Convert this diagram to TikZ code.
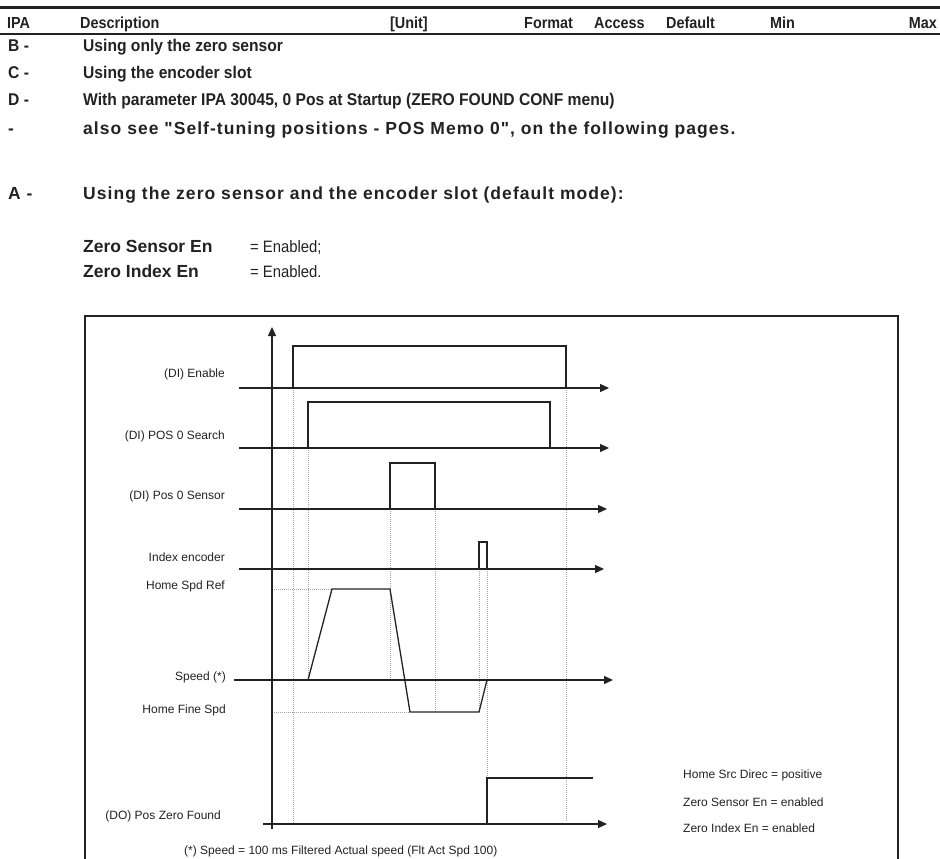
\documentclass[tikz,border=0pt]{standalone}
\usepackage{fontspec}
\setmainfont{Liberation Sans}
\newfontfamily\narrowfont[FakeStretch=0.9]{Liberation Sans}
\newfontfamily\itemfont[FakeStretch=0.92]{Liberation Sans}
\newfontfamily\spacedfont[LetterSpace=6]{Liberation Sans}
\usetikzlibrary{arrows.meta}
\definecolor{ink}{HTML}{222222}
\begin{document}
\begin{tikzpicture}[x=1pt,y=-1pt,
  hdr/.style={font=\narrowfont\bfseries\fontsize{16}{18}\selectfont, anchor=base west, inner sep=0, text=ink},
  itm/.style={font=\itemfont\bfseries\fontsize{17}{19}\selectfont, anchor=base west, inner sep=0, text=ink},
  spc/.style={font=\spacedfont\bfseries\fontsize{17.5}{19}\selectfont, anchor=base west, inner sep=0, text=ink},
  boldtxt/.style={font=\bfseries\fontsize{17.5}{19}\selectfont, anchor=base west, inner sep=0, text=ink},
  narrowtxt/.style={font=\narrowfont\fontsize{16.5}{18}\selectfont, anchor=base west, inner sep=0, text=ink},
  lbl/.style={font=\fontsize{12}{14}\selectfont, inner sep=0, text=ink},
  sig/.style={line width=1.3pt, draw=ink},
  tline/.style={sig, -{Triangle[length=9pt,width=8pt]}},
  guide/.style={draw=black!35, line width=0.6pt, dash pattern=on 1pt off 1pt},
  frameline/.style={draw=ink, line width=1.1pt}]
\useasboundingbox (0,0) rectangle (940,859);
% header rules
\draw[draw=ink, line width=2.5pt] (0,7.5) -- (940,7.5);
\draw[draw=ink, line width=2pt] (0,34) -- (940,34);
% header
\node[hdr] (hIPA) at (7,29) {IPA};
\node[hdr] (hDesc) at (80,29) {Description};
\node[hdr] (hUnit) at (390,29) {[Unit]};
\node[hdr] (hFormat) at (524,29) {Format};
\node[hdr] (hAccess) at (594,29) {Access};
\node[hdr] (hDefault) at (666,29) {Default};
\node[hdr] (hMin) at (770,29) {Min};
\node[hdr, anchor=base east] (hMax) at (937,29) {Max};
% list
\node[itm] (lB) at (8,52) {B -};
\node[itm] (tB) at (83,52) {Using only the zero sensor};
\node[itm] (lC) at (8,79) {C -};
\node[itm] (tC) at (83,79) {Using the encoder slot};
\node[itm] (lD) at (8,106) {D -};
\node[itm] (tD) at (83,106) {With parameter IPA 30045, 0 Pos at Startup (ZERO FOUND CONF menu)};
\node[spc] (lE) at (8,134) {-};
\node[spc] (tE) at (83,134) {also see "Self-tuning positions - POS Memo 0", on the following pages.};
\node[spc] (lA) at (8,199) {A -};
\node[spc] (tA) at (83,199) {Using the zero sensor and the encoder slot (default mode):};
\node[boldtxt] (zs) at (83,252) {Zero Sensor En};
\node[narrowtxt] (zsv) at (250,252) {= Enabled;};
\node[boldtxt] (zi) at (83,277) {Zero Index En};
\node[narrowtxt] (ziv) at (250,277) {= Enabled.};
% frame
\draw[frameline] (85,859) -- (85,316) -- (898,316) -- (898,859);
% guides
\draw[guide] (293,388) -- (293,824);
\draw[guide] (308,448) -- (308,680);
\draw[guide] (390,509) -- (390,680);
\draw[guide] (435,509) -- (435,712);
\draw[guide] (479,569) -- (479,712);
\draw[guide] (487,569) -- (487,778);
\draw[guide] (566,388) -- (566,822);
\draw[guide] (274,589) -- (332,589);
\draw[guide] (274,712) -- (410,712);
% axis
\draw[tline] (272,829) -- (272,327);
% time lines
\draw[tline] (239,388) -- (609,388);
\draw[tline] (239,448) -- (609,448);
\draw[tline] (239,509) -- (607,509);
\draw[tline] (239,569) -- (604,569);
\draw[tline] (234,680) -- (613,680);
\draw[tline] (263,824) -- (607,824);
% signals
\draw[sig] (293,388) -- (293,346) -- (566,346) -- (566,388);
\draw[sig] (308,448) -- (308,402) -- (550,402) -- (550,448);
\draw[sig] (390,509) -- (390,463) -- (435,463) -- (435,509);
\draw[sig] (479,569) -- (479,542) -- (487,542) -- (487,569);
\draw[sig] (308,680) -- (332,589) -- (390,589) -- (410,712) -- (479,712) -- (487,680);
\draw[sig] (487,824) -- (487,778) -- (593,778);
% labels
\node[lbl, anchor=east] (nEn) at (225,374) {(DI) Enable};
\node[lbl, anchor=east] (nSearch) at (225,436) {(DI) POS 0 Search};
\node[lbl, anchor=east] (nSensor) at (225,496) {(DI) Pos 0 Sensor};
\node[lbl, anchor=east] (nIdx) at (225,557) {Index encoder};
\node[lbl, anchor=east] (nRef) at (225,586) {Home Spd Ref};
\node[lbl, anchor=east] (nSpd) at (226,677) {Speed (*)};
\node[lbl, anchor=east] (nFine) at (226,710) {Home Fine Spd};
\node[lbl, anchor=east] (nDO) at (221,816) {(DO) Pos Zero Found};
\node[lbl, anchor=west] (nFoot) at (184,851) {(*) Speed = 100 ms Filtered Actual speed (Flt Act Spd 100)};
\node[lbl, anchor=west] (nN1) at (683,775) {Home Src Direc = positive};
\node[lbl, anchor=west] (nN2) at (683,802) {Zero Sensor En = enabled};
\node[lbl, anchor=west] (nN3) at (683,828) {Zero Index En = enabled};
\end{tikzpicture}
\end{document}
